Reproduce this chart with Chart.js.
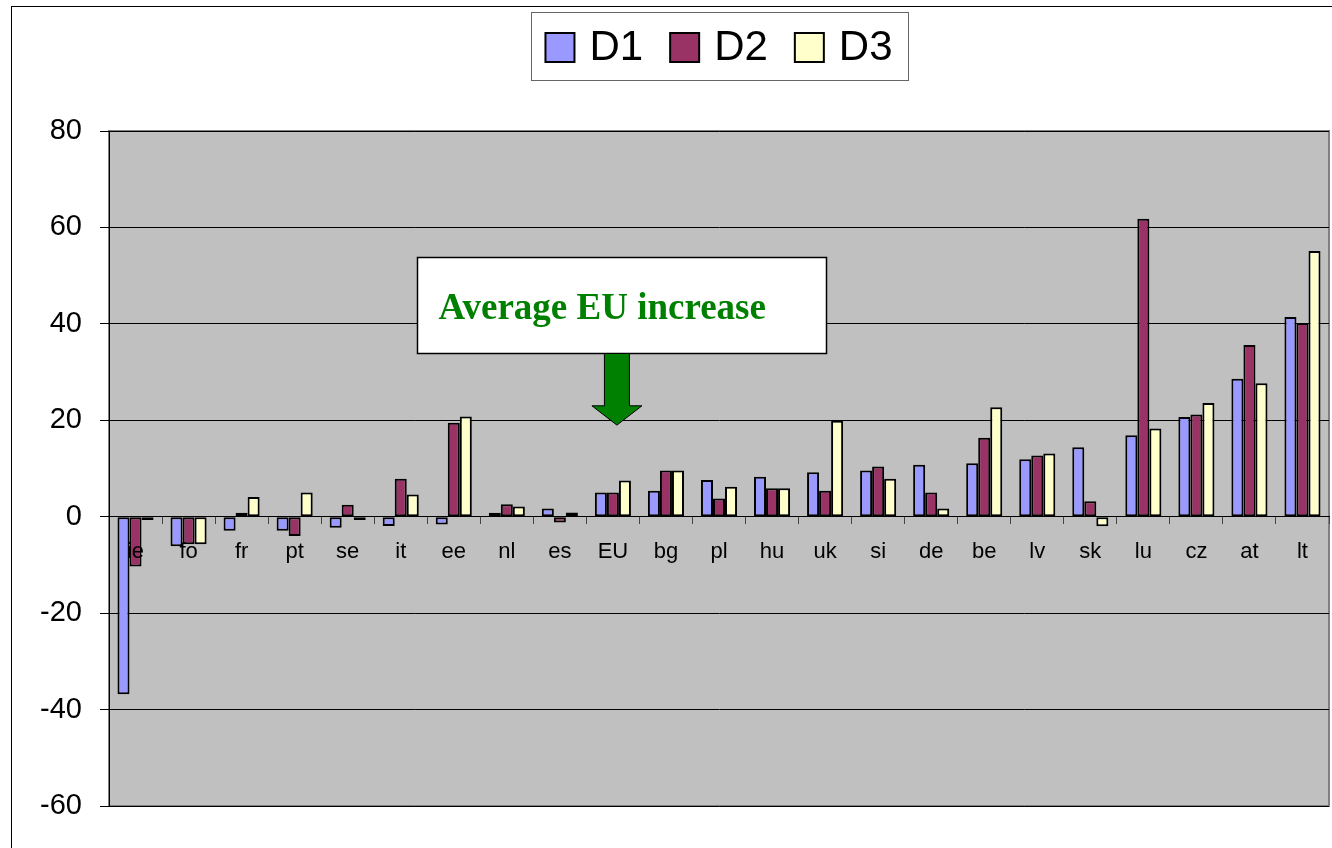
<!DOCTYPE html>
<html>
<head>
<meta charset="utf-8">
<script src="https://cdn.jsdelivr.net/npm/chart.js@4"></script>
<style>
  html, body { margin: 0; padding: 0; background: #fff; }
</style>
</head>
<body>
<canvas id="chartCountries" width="1332" height="848"></canvas>
<script>
const countries = ["ie", "fo", "fr", "pt", "se", "it", "ee", "nl", "es", "EU", "bg", "pl",
  "hu", "uk", "si", "de", "be", "lv", "sk", "lu", "cz", "at", "lt"];
const d1Values = [-36.8, -6.1, -2.9, -2.9, -2.3, -1.9, -1.6, 0.8, 1.7, 5.0, 5.4, 7.6,
  8.3, 9.2, 9.6, 10.8, 11.1, 11.9, 14.4, 16.9, 20.7, 28.6, 41.4];
const d2Values = [-10.3, -5.7, 0.8, -4.0, 2.5, 7.9, 19.5, 2.6, -1.2, 5.0, 9.6, 3.8,
  5.9, 5.4, 10.4, 5.0, 16.4, 12.7, 3.2, 61.8, 21.2, 35.6, 40.2];
const d3Values = [-0.7, -5.7, 4.1, 5.0, -0.7, 4.6, 20.8, 2.1, 0.9, 7.5, 9.6, 6.2,
  5.9, 19.9, 7.9, 1.7, 22.7, 13.1, -2.0, 18.3, 23.6, 27.7, 55.1];
const seriesNames = ["D1", "D2", "D3"];
const seriesColors = ["#9999FF", "#993366", "#FFFFCC"];
const yMin = -60, yMax = 80, yStep = 20;
const noteText = "Average EU increase";
const noteCategory = "EU";

const FONT = "'Liberation Sans', Arial, sans-serif";

// background, borders, legend and the "average EU" note
const decorations = {
  id: "decorations",
  beforeDraw(chart) {
    const { ctx, chartArea: a } = chart;
    ctx.save();
    ctx.fillStyle = "#fff";
    ctx.fillRect(0, 0, chart.width, chart.height);
    ctx.fillStyle = "#C0C0C0";
    ctx.fillRect(a.left, a.top, a.width, a.height);
    ctx.strokeStyle = "#808080";
    ctx.lineWidth = 2;
    ctx.strokeRect(a.left, a.top, a.width, a.height);
    ctx.restore();
  },
  afterDraw(chart) {
    const { ctx, chartArea: a, scales } = chart;
    ctx.save();

    // outer chart frame (only left/top visible)
    ctx.strokeStyle = "#000";
    ctx.lineWidth = 1;
    ctx.strokeRect(11.5, 6.5, 1400, 900);

    // legend
    ctx.font = "42px " + FONT;
    const box = 29, gap = 15, itemGap = 27;
    const widths = chart.data.datasets.map((ds) => ctx.measureText(ds.label).width);
    const total = widths.reduce((s, w) => s + w + box + gap, 0) + itemGap * (widths.length - 1);
    let x = (a.left + a.right) / 2 - total / 2;
    ctx.strokeStyle = "#666";
    ctx.strokeRect(Math.round(x - 14) + 0.5, 12.5, Math.round(total + 30), 68);
    ctx.textBaseline = "middle";
    chart.data.datasets.forEach((ds, i) => {
      ctx.fillStyle = ds.backgroundColor;
      ctx.fillRect(x, 33, box, box);
      ctx.strokeStyle = "#000";
      ctx.lineWidth = 2;
      ctx.strokeRect(x, 33, box, box);
      ctx.fillStyle = "#000";
      ctx.fillText(ds.label, x + box + gap, 48);
      x += box + gap + widths[i] + itemGap;
    });

    // note box
    const xs = scales.x, ys = scales.y;
    const bl = Math.round(xs.getPixelForValue(5.31)) + 0.5;
    const br = Math.round(xs.getPixelForValue(13.02)) + 0.5;
    const bt = Math.round(ys.getPixelForValue(53.8)) + 0.5;
    const bb = Math.round(ys.getPixelForValue(33.9)) + 0.5;
    ctx.fillStyle = "#fff";
    ctx.fillRect(bl, bt, br - bl, bb - bt);
    ctx.strokeStyle = "#000";
    ctx.lineWidth = 1.5;
    ctx.strokeRect(bl, bt, br - bl, bb - bt);
    ctx.fillStyle = "#008000";
    ctx.font = "bold 37px 'Liberation Serif', 'Times New Roman', serif";
    ctx.textBaseline = "alphabetic";
    ctx.fillText(noteText, bl + 21, bt + 61);

    // arrow pointing at the EU group
    const ax = xs.getPixelForValue(countries.indexOf(noteCategory)) + 4;
    const headTop = ys.getPixelForValue(23);
    const tip = ys.getPixelForValue(19);
    ctx.beginPath();
    ctx.moveTo(ax - 12.5, bb);
    ctx.lineTo(ax + 12.5, bb);
    ctx.lineTo(ax + 12.5, headTop);
    ctx.lineTo(ax + 25, headTop);
    ctx.lineTo(ax, tip);
    ctx.lineTo(ax - 25, headTop);
    ctx.lineTo(ax - 12.5, headTop);
    ctx.closePath();
    ctx.fillStyle = "#008000";
    ctx.fill();
    ctx.strokeStyle = "#000";
    ctx.lineWidth = 1;
    ctx.stroke();

    ctx.restore();
  },
};

const ctx = document.getElementById("chartCountries").getContext("2d");
const seriesValues = [d1Values, d2Values, d3Values];

new Chart(ctx, {
  type: "bar",
  data: {
    labels: countries,
    datasets: seriesNames.map((name, i) => ({
      label: name,
      data: seriesValues[i],
      backgroundColor: seriesColors[i],
      borderColor: "#000",
      borderWidth: 2,
      borderSkipped: false,
      categoryPercentage: 0.68,
      barPercentage: 1.0,
    })),
  },
  options: {
    responsive: false,
    animation: false,
    devicePixelRatio: 1,
    layout: { padding: { top: 131, left: 39, right: 3, bottom: 42 } },
    plugins: {
      legend: { display: false },
      tooltip: { enabled: false },
    },
    scales: {
      x: {
        position: { y: 0 },
        grid: {
          drawOnChartArea: false,
          drawTicks: true,
          tickLength: 7,
          color: "#444",
        },
        border: { color: "#000", width: 1 },
        ticks: {
          z: 1,
          padding: 15,
          color: "#000",
          font: { family: FONT, size: 22 },
          maxRotation: 0,
          autoSkip: false,
        },
      },
      y: {
        min: yMin,
        max: yMax,
        afterFit(scale) { scale.width = 70; },
        grid: { color: "#000", lineWidth: 1, tickLength: 9 },
        border: { color: "#000", width: 1 },
        ticks: {
          stepSize: yStep,
          padding: 18,
          color: "#000",
          font: { family: FONT, size: 29 },
        },
      },
    },
  },
  plugins: [decorations],
});
</script>
</body>
</html>
